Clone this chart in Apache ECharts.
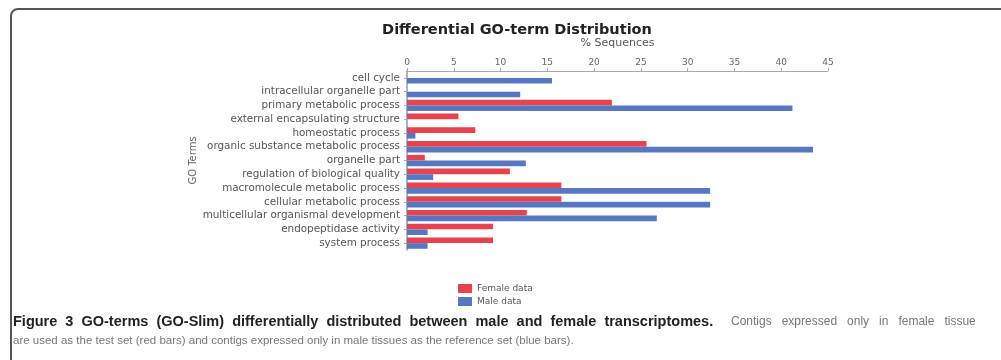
<!DOCTYPE html>
<html><head><meta charset="utf-8">
<script src="https://cdn.jsdelivr.net/npm/echarts@6/dist/echarts.min.js"></script>
<style>html,body{margin:0;padding:0;background:#fff}#c{width:1001px;height:360px}</style>
</head><body><div id="c"></div>
<script>
const categories = [
  'cell cycle',
  'intracellular organelle part',
  'primary metabolic process',
  'external encapsulating structure',
  'homeostatic process',
  'organic substance metabolic process',
  'organelle part',
  'regulation of biological quality',
  'macromolecule metabolic process',
  'cellular metabolic process',
  'multicellular organismal development',
  'endopeptidase activity',
  'system process'
];
const femaleData = [0, 0, 21.9, 5.5, 7.3, 25.6, 1.9, 11.0, 16.5, 16.5, 12.8, 9.2, 9.2];
const maleData = [15.5, 12.1, 41.2, 0, 0.9, 43.4, 12.7, 2.8, 32.4, 32.4, 26.7, 2.2, 2.2];
const xTicks = { min: 0, max: 45, interval: 5 };

const captionBold = 'Figure 3 GO-terms (GO-Slim) differentially distributed between male and female transcriptomes.';
const captionRest1 = 'Contigs expressed only in female tissue';
const captionLine2 = 'are used as the test set (red bars) and contigs expressed only in male tissues as the reference set (blue bars).';
// justified first line: widen the word spacing
const spread = (s, n) => s.split(' ').join(' '.repeat(n));

const chart = echarts.init(document.getElementById('c'), null, { renderer: 'canvas' });
chart.setOption({
  animation: false,
  backgroundColor: '#fff',
  title: {
    text: 'Differential GO-term Distribution',
    left: 512, top: 18, textAlign: 'center',
    textStyle: { fontFamily: 'DejaVu Sans', fontWeight: 'bold', fontSize: 14.5, color: '#222' }
  },
  legend: {
    orient: 'vertical', left: 453, top: 279, itemWidth: 14, itemHeight: 9, itemGap: 4,
    icon: 'rect',
    textStyle: { fontFamily: 'DejaVu Sans', fontSize: 9, color: '#555' },
    data: ['Female data', 'Male data']
  },
  grid: { left: 407, right: 173, top: 71, bottom: 110, containLabel: false },
  xAxis: {
    type: 'value', position: 'top', min: xTicks.min, max: xTicks.max, interval: xTicks.interval,
    name: '% Sequences', nameLocation: 'middle', nameGap: 22,
    nameTextStyle: { fontFamily: 'DejaVu Sans', fontSize: 11, color: '#555' },
    axisLine: { show: true, lineStyle: { color: '#aaa' } },
    axisTick: { show: true, length: 3, lineStyle: { color: '#aaa' } },
    axisLabel: { fontFamily: 'DejaVu Sans', fontSize: 9, color: '#666', margin: 4 },
    splitLine: { show: false }
  },
  yAxis: {
    type: 'category', inverse: true, data: categories,
    name: 'GO Terms', nameLocation: 'middle', nameGap: 206, nameRotate: 90,
    nameTextStyle: { fontFamily: 'DejaVu Sans', fontSize: 10, color: '#666' },
    axisLine: { show: true, lineStyle: { color: '#8898c8', width: 1.5 } },
    axisTick: { show: true, length: 3, alignWithLabel: true, lineStyle: { color: '#aaa' } },
    axisLabel: { fontFamily: 'DejaVu Sans', fontSize: 10.4, color: '#555', margin: 7, interval: 0 }
  },
  series: [
    { name: 'Female data', type: 'bar', data: femaleData, barGap: '0%', barCategoryGap: '18%',
      itemStyle: { color: '#e6434e' } },
    { name: 'Male data', type: 'bar', data: maleData, barGap: '0%', barCategoryGap: '18%',
      itemStyle: { color: '#5677c2' } }
  ],
  graphic: [
    { type: 'rect', shape: { x: 11, y: 9, width: 1100, height: 500, r: 7 },
      style: { fill: 'none', stroke: '#555', lineWidth: 2 }, silent: true },
    { type: 'text', x: 13, y: 314, silent: true,
      style: {
        text: spread(captionBold, 2),
        font: 'bold 14.5px "Liberation Sans"', fill: '#222'
      } },
    { type: 'text', x: 731, y: 316, silent: true,
      style: {
        text: spread(captionRest1, 3),
        font: '12px "Liberation Sans"', fill: '#777'
      } },
    { type: 'text', x: 13, y: 335, silent: true,
      style: {
        text: captionLine2,
        font: '11.5px "Liberation Sans"', fill: '#777'
      } }
  ]
});
</script>
</body></html>
